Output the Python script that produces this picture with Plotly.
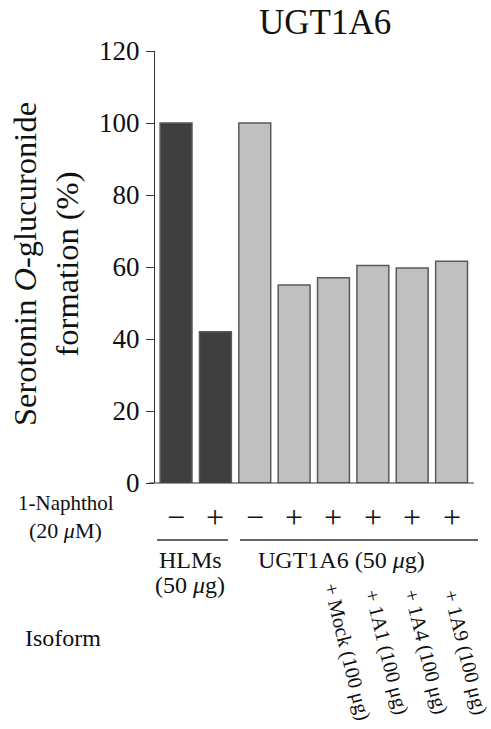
import plotly.graph_objects as go

# ---- data ----
bar_index = [0, 1, 2, 3, 4, 5, 6, 7]
values = [100, 42, 100, 55, 57, 60.4, 59.7, 61.6]
groups = ["HLMs", "HLMs", "UGT1A6", "UGT1A6", "UGT1A6", "UGT1A6", "UGT1A6", "UGT1A6"]
naphthol = ["−", "+", "−", "+", "+", "+", "+", "+"]
isoform_labels = [None, None, None, None,
                  "+ Mock (100 μg)", "+ 1A1 (100 μg)", "+ 1A4 (100 μg)", "+ 1A9 (100 μg)"]
y_ticks = [0, 20, 40, 60, 80, 100, 120]

group_colors = {"HLMs": "#3f3f3f", "UGT1A6": "#c0c0c0"}
FONT = "Liberation Serif"

W, H = 491, 729
L, R, T, B = 155, 17, 51, 246
pw, ph = W - L - R, H - T - B


def px(x):
    return (x - L) / pw


def py(y):
    return (H - B - y) / ph


def f(size):
    return dict(size=size, family=FONT, color="#111")


fig = go.Figure()
fig.add_trace(go.Bar(
    x=bar_index, y=values, width=0.81,
    marker=dict(color=[group_colors[g] for g in groups],
                line=dict(color="#5a5a5a", width=1.5)),
    hoverinfo="skip"))

ann = []
ann.append(dict(text="UGT1A6", x=px(325), y=py(22), xref="paper", yref="paper",
                showarrow=False, font=f(35), xanchor="center", yanchor="middle"))
ann.append(dict(text="Serotonin <i>O</i>-glucuronide<br>formation (%)",
                x=px(46), y=py(264), xref="paper", yref="paper", textangle=-90,
                showarrow=False, font=f(32.5), xanchor="center", yanchor="middle"))
ann.append(dict(text="1-Naphthol", x=px(66), y=py(503), xref="paper", yref="paper",
                showarrow=False, font=f(21), xanchor="center", yanchor="middle"))
ann.append(dict(text="(20 <i>μ</i>M)", x=px(65), y=py(530), xref="paper", yref="paper",
                showarrow=False, font=f(22), xanchor="center", yanchor="middle"))
ann.append(dict(text="Isoform", x=px(63), y=py(638), xref="paper", yref="paper",
                showarrow=False, font=f(24), xanchor="center", yanchor="middle"))
for i, s in zip(bar_index, naphthol):
    ann.append(dict(text=s, x=i, y=py(517), xref="x", yref="paper",
                    showarrow=False, font=f(32), xanchor="center", yanchor="middle"))
ann.append(dict(text="HLMs", x=px(190), y=py(560), xref="paper", yref="paper",
                showarrow=False, font=f(24), xanchor="center", yanchor="middle"))
ann.append(dict(text="(50 <i>μ</i>g)", x=px(190), y=py(585), xref="paper", yref="paper",
                showarrow=False, font=f(24), xanchor="center", yanchor="middle"))
ann.append(dict(text="UGT1A6 (50 <i>μ</i>g)", x=px(341), y=py(560), xref="paper", yref="paper",
                showarrow=False, font=f(24), xanchor="center", yanchor="middle"))
for i, lab in zip(bar_index, isoform_labels):
    if lab is None:
        continue
    ann.append(dict(text=lab, x=i, xshift=14, y=py(652), xref="x", yref="paper",
                    textangle=76, showarrow=False, font=f(20.5),
                    xanchor="center", yanchor="middle"))

shapes = [
    dict(type="line", xref="paper", yref="paper", x0=px(149), x1=px(474), y0=0, y1=0,
         line=dict(color="#333", width=1.2)),
    dict(type="line", xref="paper", yref="paper", x0=px(157), x1=px(228), y0=py(540), y1=py(540),
         line=dict(color="#333", width=1.5)),
    dict(type="line", xref="paper", yref="paper", x0=px(240), x1=px(478), y0=py(540), y1=py(540),
         line=dict(color="#333", width=1.5)),
]

fig.update_layout(
    width=W, height=H, margin=dict(l=L, r=R, t=T, b=B, autoexpand=False),
    paper_bgcolor="white", plot_bgcolor="white", showlegend=False,
    font=dict(family=FONT, color="#111"),
    annotations=ann, shapes=shapes,
    xaxis=dict(range=[-0.535, 7.57], showticklabels=False, ticks="", showline=False,
               showgrid=False, zeroline=False, fixedrange=True),
    yaxis=dict(range=[0, 120], tickvals=y_ticks, ticks="outside", ticklen=8, tickwidth=1.2,
               tickcolor="#333", showline=True, linecolor="#333", linewidth=1.2,
               showgrid=False, zeroline=False, tickfont=f(27), ticklabelstandoff=1),
)

fig.write_html("out.html", config={"displayModeBar": False},
               post_script="document.body.style.margin='0';document.body.style.overflow='hidden';")
